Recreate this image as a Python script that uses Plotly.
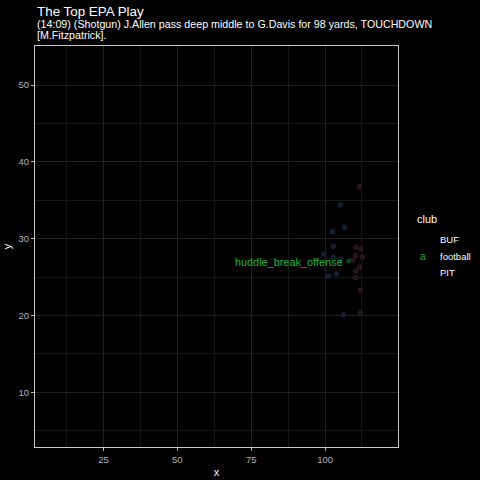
import plotly.graph_objects as go

# ---- data ----
pit_x = [111.6, 110.4, 112.1, 110.3, 112.7, 109.4, 111.7, 110.4, 110.3, 112.0, 112.0]
pit_y = [36.8, 28.9, 28.7, 27.8, 27.6, 27.2, 26.3, 25.8, 24.9, 23.3, 20.3]
buf_x = [105.2, 102.5, 106.6, 102.8, 99.6, 102.8, 105.2, 103.9, 101.2, 106.2]
buf_y = [34.4, 30.9, 31.5, 29.0, 28.0, 27.6, 27.3, 25.4, 25.1, 20.1]
ball_x = [108.0]
ball_y = [27.1]
label_x = [87.7]
label_y = [26.75]
label_text = ["huddle_break_offense"]
legend_title = "club"
legend_labels = ["BUF", "football", "PIT"]
title = "The Top EPA Play"
subtitle_lines = ["(14:09) (Shotgun) J.Allen pass deep middle to G.Davis for 98 yards, TOUCHDOWN",
                  "[M.Fitzpatrick]."]
x_ticks = [25, 50, 75, 100]
y_ticks = [10, 20, 30, 40, 50]

FONT = "Liberation Sans, Arial, sans-serif"
TICK_COL = "#b5b5b5"
GREEN = "#19b33a"

fig = go.Figure()
fig.add_trace(go.Scatter(x=buf_x, y=buf_y, mode="markers", showlegend=False,
                         marker=dict(size=4.5, color="#131b30", line=dict(color="#1d2942", width=0.8))))
fig.add_trace(go.Scatter(x=pit_x, y=pit_y, mode="markers", showlegend=False,
                         marker=dict(size=4.5, color="#261414", line=dict(color="#3c2020", width=0.8))))
fig.add_trace(go.Scatter(x=ball_x, y=ball_y, mode="markers", showlegend=False,
                         marker=dict(size=4.5, color="#164420", line=dict(color="#12361a", width=0.8))))
fig.add_trace(go.Scatter(x=label_x, y=label_y, mode="text", text=label_text, showlegend=False,
                         textposition="middle center",
                         textfont=dict(family=FONT, size=10.9, color=GREEN)))

H = 401.3
def py(yp):
    return 1 - (yp - 46) / H

ann = []
ann.append(dict(text=title, x=0, y=py(11.5), xref="paper", yref="paper", xanchor="left",
                yanchor="middle", showarrow=False, font=dict(family=FONT, size=13.4, color="white")))
for i, (line, yp) in enumerate(zip(subtitle_lines, [24.2, 35.0])):
    ann.append(dict(text=line, x=0, y=py(yp), xref="paper", yref="paper", xanchor="left",
                    yanchor="middle", showarrow=False, font=dict(family=FONT, size=10.7, color="white")))
# legend
ann.append(dict(text=legend_title, x=(415.7 - 34.5) / 364, y=py(219.3), xref="paper", yref="paper",
                xanchor="left", yanchor="middle", showarrow=False,
                font=dict(family=FONT, size=11, color="white")))
for lab, yp in zip(legend_labels, [240, 256.7, 272.7]):
    ann.append(dict(text=lab, x=(438.3 - 34.5) / 364, y=py(yp), xref="paper", yref="paper",
                    xanchor="left", yanchor="middle", showarrow=False,
                    font=dict(family=FONT, size=9.5, color="white")))
ann.append(dict(text="a", x=(423.2 - 34.5) / 364, y=py(256.7), xref="paper", yref="paper",
                xanchor="center", yanchor="middle", showarrow=False,
                font=dict(family=FONT, size=10, color=GREEN)))

fig.update_layout(
    width=480, height=480,
    margin=dict(l=34.5, r=81.5, t=46, b=32.7, pad=0, autoexpand=False),
    paper_bgcolor="black", plot_bgcolor="black",
    font=dict(family=FONT, color="white"),
    annotations=ann,
    showlegend=False,
)
fig.update_xaxes(range=[1.8, 124.7], tickvals=x_ticks, ticktext=[str(v) for v in x_ticks],
                 automargin=False,
                 showgrid=True, gridcolor="#202020", gridwidth=1, zeroline=False,
                 minor=dict(tickvals=[12.5, 37.5, 62.5, 87.5, 112.5], showgrid=True, gridcolor="#161616", gridwidth=1),
                 showline=True, linecolor="#c8c8c8", linewidth=1.2, mirror=True,
                 ticks="outside", ticklen=3, tickcolor="#b5b5b5",
                 tickfont=dict(family=FONT, size=9.5, color=TICK_COL),
                 title=dict(text="x", font=dict(family=FONT, size=11, color="white"), standoff=4))
fig.update_yaxes(range=[2.86, 55.1], tickvals=y_ticks, ticktext=[str(v) for v in y_ticks],
                 automargin=False,
                 showgrid=True, gridcolor="#202020", gridwidth=1, zeroline=False,
                 minor=dict(tickvals=[5, 15, 25, 35, 45], showgrid=True, gridcolor="#161616", gridwidth=1),
                 showline=True, linecolor="#c8c8c8", linewidth=1.2, mirror=True,
                 ticks="outside", ticklen=3, tickcolor="#b5b5b5",
                 tickfont=dict(family=FONT, size=9.5, color=TICK_COL),
                 title=dict(text="y", font=dict(family=FONT, size=11, color="white"), standoff=4))

fig.write_html("out.html")
